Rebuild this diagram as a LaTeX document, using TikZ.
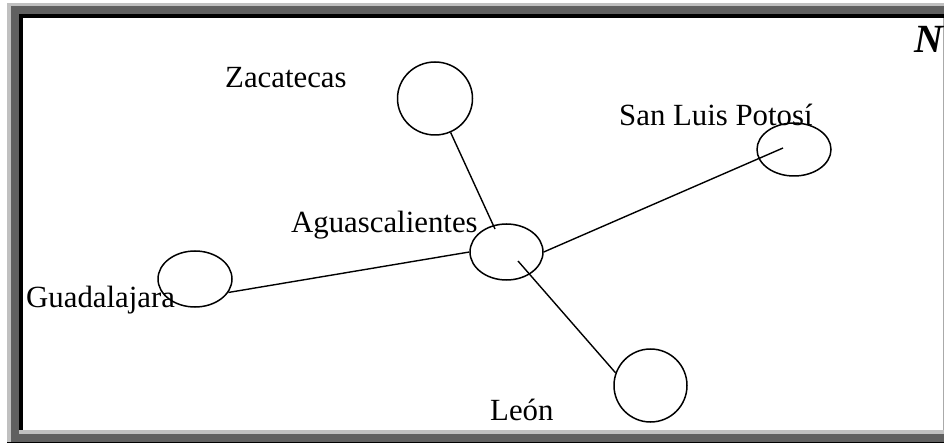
\documentclass[tikz,border=0pt]{standalone}
\usepackage{fontspec}
\setmainfont{Liberation Serif}
\usetikzlibrary{shapes.geometric}
\definecolor{lightframe}{RGB}{192,192,192}
\definecolor{darkframe}{RGB}{96,96,96}
\definecolor{edgegrey}{RGB}{170,170,170}
\tikzset{
  city/.style={ellipse, draw=black, line width=1.5pt, inner sep=0pt},
  lbl/.style={anchor=base west, inner sep=0pt, font=\fontsize{30.8}{36}\selectfont},
  link/.style={draw=black, line width=1.4pt},
}
\begin{document}
\begin{tikzpicture}[x=1pt,y=-1pt]
\useasboundingbox (0,0) rectangle (944,443);
\clip (0,0) rectangle (944,443);
% frame
\fill[lightframe] (7,3) rectangle (944,6);
\fill[lightframe] (7,3) rectangle (11,442);
\fill[lightframe] (19,430) rectangle (944,434);
\fill[darkframe] (11,6) rectangle (944,14);
\fill[darkframe] (11,6) rectangle (19,442);
\fill[darkframe] (11,434) rectangle (944,442);
\fill[black] (19,14) rectangle (944,18);
\fill[black] (19,14) rectangle (23,430);
\fill[black] (7,442) rectangle (944,443);
\fill[edgegrey] (942.5,18) rectangle (943.5,430);
% nodes
\node[city, minimum width=75pt, minimum height=73pt] (zac) at (435,98.5) {};
\node[city, minimum width=74pt, minimum height=53pt] (slp) at (794,149.5) {};
\node[city, minimum width=73pt, minimum height=56pt] (agu) at (506.5,252) {};
\node[city, minimum width=74pt, minimum height=56pt] (guad) at (195,279) {};
\node[city, minimum width=73pt, minimum height=73pt] (leon) at (650.5,385.5) {};
% free ends
\coordinate (zacend) at (495,229);
\coordinate (slpend) at (783,148);
\coordinate (leonstart) at (518,261);
% connectors
\draw[link] (zac) -- (zacend);
\draw[link] (agu.east) -- (slpend);
\draw[link] (leonstart) -- (leon.160);
\draw[link] (guad.-22) -- (agu.west);
% labels
\node[lbl] (tzac) at (225,88) {Zacatecas};
\node[lbl] (tslp) at (619,126) {San Luis Potosí};
\node[lbl] (tagu) at (291,233) {Aguascalientes};
\node[lbl] (tguad) at (26,308) {Guadalajara};
\node[lbl] (tleon) at (490,420) {León};
\node[anchor=base west, inner sep=0pt, font=\fontsize{40}{42}\selectfont\bfseries\itshape] (tn) at (914,53) {N};
\end{tikzpicture}
\end{document}
